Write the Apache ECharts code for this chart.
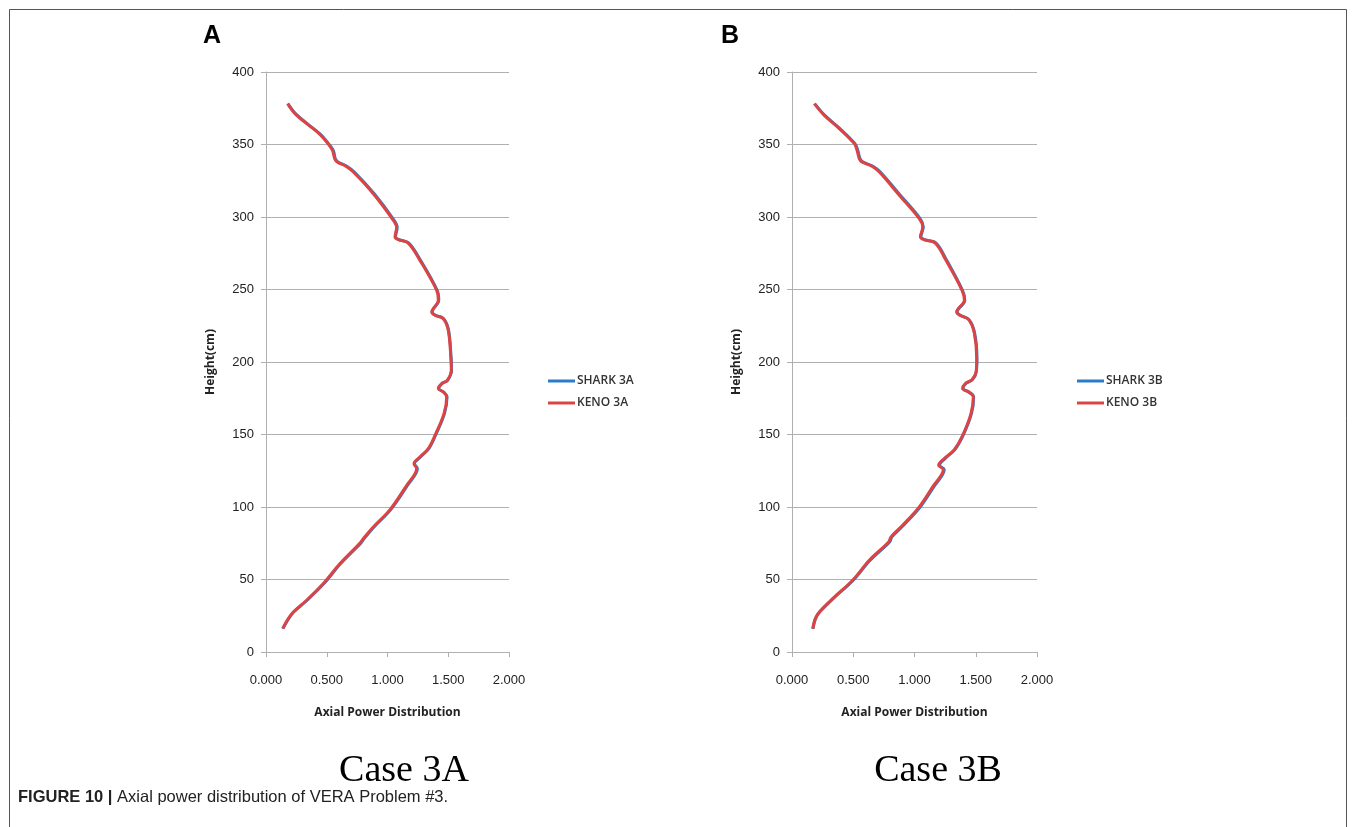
<!DOCTYPE html>
<html><head><meta charset="utf-8">
<script src="https://cdn.jsdelivr.net/npm/echarts@6/dist/echarts.min.js"></script>
<style>html,body{margin:0;padding:0;background:#fff}#c{width:1355px;height:827px}</style>
</head><body><div id="c"></div>
<script>
// ---- data ----
const heightsA = [378.2, 371.3, 364.4, 357, 349.4, 345.5, 340.3, 338, 335, 331, 316, 297.7, 293, 286.2, 284.4, 282, 270.1, 249.4, 242.6, 234.5, 232.2, 229.9, 221.9, 202.3, 194.3, 187.4, 185.1, 181.7, 179.3, 175.9, 164.4, 149.4, 140.3, 134.5, 129.9, 126.5, 115, 98.2, 86.2, 78.2, 75.2, 61, 47.2, 35.7, 27.6, 23, 16.1];
const kenoA  = [0.178, 0.239, 0.335, 0.444, 0.521, 0.549, 0.565, 0.587, 0.658, 0.719, 0.883, 1.048, 1.075, 1.062, 1.090, 1.171, 1.267, 1.405, 1.418, 1.364, 1.391, 1.459, 1.500, 1.522, 1.525, 1.492, 1.446, 1.418, 1.459, 1.487, 1.465, 1.391, 1.336, 1.267, 1.218, 1.240, 1.158, 1.021, 0.883, 0.801, 0.774, 0.609, 0.472, 0.335, 0.225, 0.184, 0.137];
const sharkA = [0.180, 0.242, 0.339, 0.448, 0.526, 0.556, 0.570, 0.592, 0.665, 0.727, 0.891, 1.055, 1.080, 1.066, 1.094, 1.176, 1.272, 1.409, 1.422, 1.368, 1.394, 1.462, 1.503, 1.524, 1.527, 1.495, 1.449, 1.421, 1.462, 1.490, 1.469, 1.395, 1.340, 1.271, 1.222, 1.246, 1.165, 1.027, 0.889, 0.808, 0.782, 0.615, 0.477, 0.338, 0.228, 0.186, 0.139];

const heightsB = [378.2, 370.1, 361, 350.6, 346, 340.3, 338, 335, 331, 315, 298.9, 293.1, 286.2, 284.4, 282, 270.1, 249.4, 242.6, 234.5, 232.2, 229.2, 220, 202.3, 193, 187.8, 185.1, 181.7, 179.3, 175.9, 164.4, 149.4, 139.6, 133.4, 128.8, 125.8, 113.9, 100.1, 87.4, 79.4, 75.9, 63.3, 49.5, 36.8, 27.6, 23, 16.1];
const kenoB  = [0.182, 0.264, 0.386, 0.509, 0.531, 0.549, 0.571, 0.653, 0.713, 0.876, 1.039, 1.067, 1.048, 1.078, 1.170, 1.257, 1.388, 1.407, 1.344, 1.371, 1.442, 1.488, 1.508, 1.502, 1.469, 1.415, 1.393, 1.442, 1.480, 1.461, 1.393, 1.325, 1.243, 1.197, 1.235, 1.148, 1.039, 0.903, 0.808, 0.789, 0.631, 0.495, 0.332, 0.223, 0.190, 0.169];
const sharkB = [0.185, 0.268, 0.391, 0.514, 0.537, 0.555, 0.577, 0.661, 0.721, 0.884, 1.046, 1.072, 1.052, 1.083, 1.176, 1.263, 1.392, 1.411, 1.348, 1.374, 1.445, 1.491, 1.510, 1.504, 1.472, 1.418, 1.396, 1.445, 1.483, 1.465, 1.397, 1.330, 1.249, 1.203, 1.243, 1.157, 1.048, 0.911, 0.816, 0.797, 0.638, 0.500, 0.336, 0.226, 0.192, 0.171];

const seriesNamesA = ['SHARK 3A', 'KENO 3A'];
const seriesNamesB = ['SHARK 3B', 'KENO 3B'];
const xTickLabels = ['0.000', '0.500', '1.000', '1.500', '2.000'];
const yTickLabels = ['0', '50', '100', '150', '200', '250', '300', '350', '400'];
const panelLetters = ['A', 'B'];
const caseLabels = ['Case 3A', 'Case 3B'];
const xTitle = 'Axial Power Distribution';
const yTitle = 'Height(cm)';
const captionBold = 'FIGURE 10 | ';
const captionText = 'Axial power distribution of VERA Problem #3.';

// ---- chart ----
const BLUE = '#2b7bc9', RED = '#dc4444', AXIS = '#b0b0b0';
const pairs = (xs, ys) => xs.map((x, i) => [x, ys[i]]);
const grids = [
  {left: 266, top: 72, width: 243, height: 580},
  {left: 792, top: 72, width: 245, height: 580}
];
function xAx(i) {
  return {
    type: 'value', gridIndex: i, min: 0, max: 2, interval: 0.5,
    name: xTitle, nameLocation: 'middle', nameGap: 55,
    nameTextStyle: {fontFamily: 'Open Sans', fontWeight: 'bold', fontSize: 12, color: '#222'},
    axisLine: {show: true, lineStyle: {color: AXIS, width: 1}},
    axisTick: {show: true, length: 5, lineStyle: {color: AXIS}},
    axisLabel: {margin: 22, fontFamily: 'Liberation Sans', fontSize: 13, color: '#222',
      formatter: v => xTickLabels[Math.round(v / 0.5)]},
    splitLine: {show: false}
  };
}
function yAx(i) {
  return {
    type: 'value', gridIndex: i, min: 0, max: 400, interval: 50,
    name: yTitle, nameLocation: 'middle', nameGap: 49,
    nameTextStyle: {fontFamily: 'Open Sans', fontWeight: 'bold', fontSize: 12, color: '#222'},
    axisLine: {show: true, lineStyle: {color: AXIS, width: 1}},
    axisTick: {show: true, length: 5, lineStyle: {color: AXIS}},
    axisLabel: {margin: 12, fontFamily: 'Liberation Sans', fontSize: 13, color: '#222',
      formatter: v => yTickLabels[Math.round(v / 50)]},
    splitLine: {show: true, lineStyle: {color: AXIS, width: 1}}
  };
}
function line(name, xs, ys, gi, color, z) {
  return {
    type: 'line', name, xAxisIndex: gi, yAxisIndex: gi,
    data: pairs(xs, ys), smooth: 0.35, showSymbol: false, symbol: 'none',
    lineStyle: {color, width: 3}, itemStyle: {color}, z, animation: false
  };
}
function legend(names, left) {
  return {
    data: names, orient: 'vertical', left, top: 375, itemGap: 10, padding: 0,
    icon: 'rect', itemWidth: 27, itemHeight: 3,
    textStyle: {fontFamily: 'Open Sans', fontSize: 12, fontWeight: 600, color: '#333', padding: [0, 0, 0, -3]}
  };
}
const chart = echarts.init(document.getElementById('c'), null, {renderer: 'canvas'});
chart.setOption({
  animation: false,
  backgroundColor: '#fff',
  grid: grids,
  xAxis: [xAx(0), xAx(1)],
  yAxis: [yAx(0), yAx(1)],
  legend: [legend(seriesNamesA, 548), legend(seriesNamesB, 1077)],
  series: [
    line(seriesNamesA[0], sharkA, heightsA, 0, BLUE, 2),
    line(seriesNamesA[1], kenoA, heightsA, 0, RED, 3),
    line(seriesNamesB[0], sharkB, heightsB, 1, BLUE, 2),
    line(seriesNamesB[1], kenoB, heightsB, 1, RED, 3)
  ],
  graphic: [
    {type: 'rect', shape: {x: 9.5, y: 9.5, width: 1337, height: 850},
      style: {fill: 'none', stroke: '#555', lineWidth: 1}, silent: true},
    {type: 'text', x: 212, y: 36, style: {text: panelLetters[0], font: 'bold 25px "Liberation Sans"', fill: '#000', align: 'center', verticalAlign: 'middle'}},
    {type: 'text', x: 730, y: 36, style: {text: panelLetters[1], font: 'bold 25px "Liberation Sans"', fill: '#000', align: 'center', verticalAlign: 'middle'}},
    {type: 'text', x: 404, y: 771, style: {text: caseLabels[0], font: '38px "Liberation Serif"', fill: '#000', align: 'center', verticalAlign: 'middle'}},
    {type: 'text', x: 938, y: 771, style: {text: caseLabels[1], font: '38px "Liberation Serif"', fill: '#000', align: 'center', verticalAlign: 'middle'}},
    {type: 'text', x: 18, y: 797, style: {
      text: '{b|' + captionBold + '}{r|' + captionText + '}', verticalAlign: 'middle',
      rich: {
        b: {fontFamily: 'Liberation Sans', fontWeight: 'bold', fontSize: 16.5, fill: '#222'},
        r: {fontFamily: 'Liberation Sans', fontSize: 16.5, fill: '#222'}
      }}}
  ]
});
</script></body></html>
